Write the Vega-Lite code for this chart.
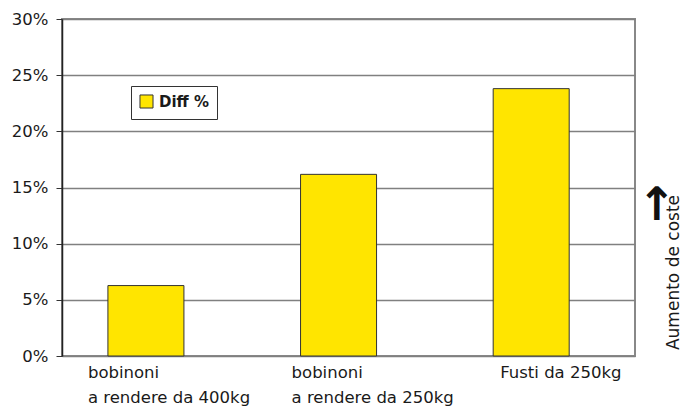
{
  "$schema": "https://vega.github.io/schema/vega-lite/v6.json",
  "width": 573,
  "height": 337,
  "autosize": "none",
  "padding": {"left": 62, "top": 19, "right": 51, "bottom": 51},
  "background": "white",
  "config": {
    "view": {"stroke": "#888888", "strokeWidth": 2},
    "font": "DejaVu Sans"
  },
  "data": {
    "values": [
      {"category": "bobinoni a rendere da 400kg", "value": 0.0627, "series": "Diff %"},
      {"category": "bobinoni a rendere da 250kg", "value": 0.1617, "series": "Diff %"},
      {"category": "Fusti da 250kg", "value": 0.238, "series": "Diff %"}
    ]
  },
  "encoding": {
    "x": {
      "field": "category",
      "type": "nominal",
      "sort": null,
      "scale": {"paddingInner": 0.6054, "paddingOuter": 0.29, "align": 0.411},
      "axis": {
        "title": null,
        "domain": false,
        "ticks": false,
        "labelAngle": 0,
        "labelAlign": "left",
        "labelBaseline": "top",
        "labelPadding": 8,
        "labelFontSize": 16.5,
        "labelColor": "#1a1a1a",
        "labelLineHeight": 25,
        "labelLimit": 0,
        "labelExpr": "indexof(datum.label, 'bobinoni ') == 0 ? ['bobinoni', substring(datum.label, 9)] : datum.label",
        "labelOffset": {
          "condition": [
            {"test": "datum.value == 'bobinoni a rendere da 400kg'", "value": -58},
            {"test": "datum.value == 'Fusti da 250kg'", "value": -31}
          ],
          "value": -47
        }
      }
    }
  },
  "layer": [
    {
      "mark": {"type": "bar", "stroke": "#333333", "strokeWidth": 1},
      "encoding": {
        "y": {
          "field": "value",
          "type": "quantitative",
          "scale": {"domain": [0, 0.3], "nice": false},
          "axis": {
            "title": null,
            "orient": "left",
            "values": [0, 0.05, 0.1, 0.15, 0.2, 0.25, 0.3],
            "format": ".0%",
            "grid": true,
            "gridColor": "#808080",
            "gridWidth": 1.5,
            "domainColor": "#222222",
            "domainWidth": 1.5,
            "tickColor": "#333333",
            "tickSize": 6,
            "labelPadding": 8,
            "labelFontSize": 16.5,
            "labelColor": "#1a1a1a"
          }
        },
        "color": {
          "field": "series",
          "type": "nominal",
          "scale": {"range": ["#FFE500"]},
          "legend": {
            "title": null,
            "orient": "none",
            "legendX": 69,
            "legendY": 67,
            "symbolType": "square",
            "symbolSize": 170,
            "symbolStrokeColor": "#333333",
            "symbolStrokeWidth": 1,
            "labelFontSize": 15,
            "labelFontWeight": "bold",
            "labelColor": "#1a1a1a",
            "labelOffset": 5,
            "strokeColor": "#333333",
            "fillColor": "white",
            "padding": 8
          }
        }
      }
    },
    {
      "mark": {"type": "point", "opacity": 0},
      "encoding": {
        "y": {
          "field": "value",
          "type": "quantitative",
          "scale": {"domain": [0, 0.3], "nice": false},
          "axis": {
            "orient": "right",
            "values": [0.134],
            "labelExpr": "'↑'",
            "ticks": false,
            "domain": false,
            "grid": false,
            "labelFontSize": 46,
            "labelFontWeight": "bold",
            "labelColor": "#111111",
            "labelPadding": 2,
            "labelBaseline": "middle",
            "labelAlign": "left",
            "title": "Aumento de coste",
            "titleAngle": 270,
            "titleFontSize": 17,
            "titleFontWeight": "normal",
            "titleColor": "#1a1a1a",
            "titleX": 38,
            "titleY": 253,
            "titleAlign": "center",
            "titleBaseline": "middle"
          }
        }
      }
    }
  ],
  "resolve": {"axis": {"y": "independent"}}
}
